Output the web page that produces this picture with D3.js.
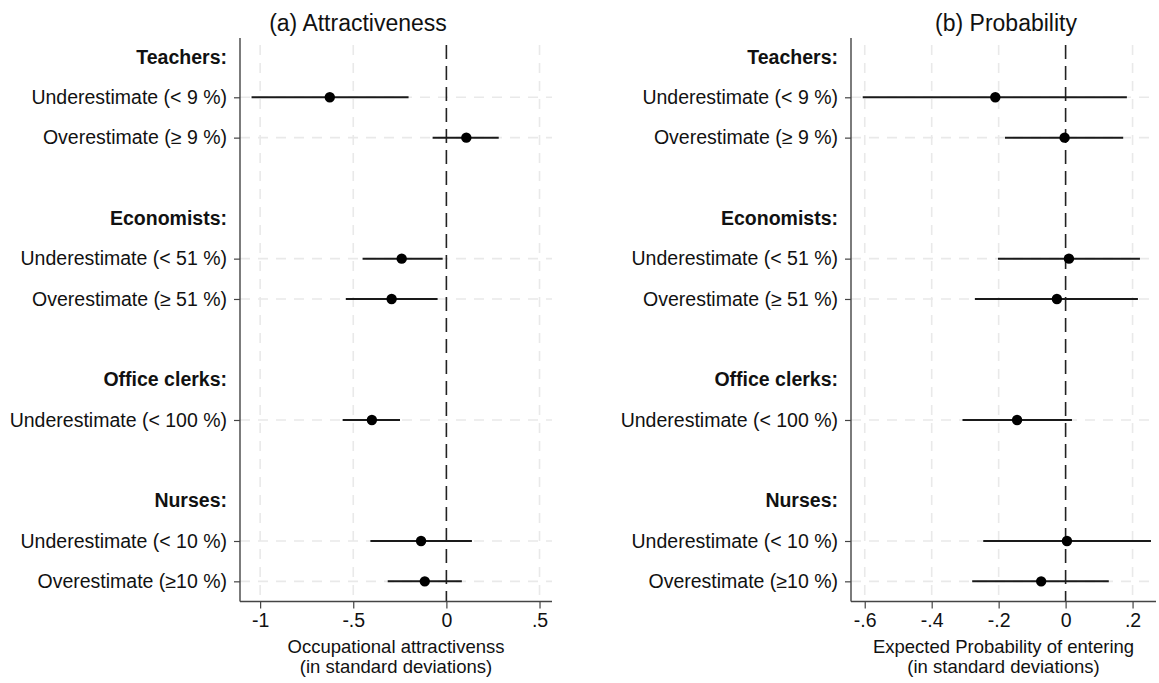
<!DOCTYPE html>
<html>
<head>
<meta charset="utf-8">
<script src="https://cdn.jsdelivr.net/npm/d3@7"></script>
<style>
  html, body { margin: 0; padding: 0; background: #fff; }
  svg { display: block; font-family: "Liberation Sans", Arial, Helvetica, sans-serif; }
</style>
</head>
<body>
<svg id="chart" width="1159" height="683"></svg>
<script>
// Occupation groups and the perception rows under each of them
const occupations = ["Teachers", "Economists", "Office clerks", "Nurses"];
const estimateLabels = [
  "Underestimate (< 9 %)", "Overestimate (\u2265 9 %)",
  "Underestimate (< 51 %)", "Overestimate (\u2265 51 %)",
  "Underestimate (< 100 %)",
  "Underestimate (< 10 %)", "Overestimate (\u226510 %)"
];
const estimateOccupation = ["Teachers", "Teachers", "Economists", "Economists",
  "Office clerks", "Nurses", "Nurses"];

// (a) Occupational attractiveness: point estimates and 95% CI bounds
const attractCoef = [-0.626, 0.107, -0.240, -0.294, -0.400, -0.136, -0.116];
const attractLo   = [-1.046, -0.074, -0.450, -0.540, -0.557, -0.408, -0.315];
const attractHi   = [-0.203, 0.281, -0.020, -0.047, -0.249, 0.137, 0.083];

// (b) Expected probability of entering: point estimates and 95% CI bounds
const probCoef = [-0.210, -0.003, 0.010, -0.026, -0.145, 0.004, -0.073];
const probLo   = [-0.606, -0.181, -0.202, -0.271, -0.308, -0.246, -0.279];
const probHi   = [0.183, 0.172, 0.222, 0.216, 0.019, 0.255, 0.129];

// Axis ticks
const attractTicks = [-1, -0.5, 0, 0.5];
const attractTickLabels = ["-1", "-.5", "0", ".5"];
const probTicks = [-0.6, -0.4, -0.2, 0, 0.2];
const probTickLabels = ["-.6", "-.4", "-.2", "0", ".2"];

// Row order: each occupation gets a header row, its estimate rows, then a spacer
const rows = [];
let slot = 0;
occupations.forEach((occ, gi) => {
  if (gi > 0) slot += 1;
  rows.push({ label: occ + ":", header: true, slot: slot++ });
  estimateLabels.forEach((lab, i) => {
    if (estimateOccupation[i] === occ) rows.push({ label: lab, header: false, slot: slot++, idx: i });
  });
});

const svg = d3.select("#chart");
const plotTop = 38, plotBottom = 601.5;
const y = d3.scaleLinear().domain([-0.47, 13.5]).range([plotTop, plotBottom]);

const panels = [
  { title: "(a) Attractiveness", titleX: 358,
    range: [240, 552], domain: [-1.108, 0.567],
    coef: attractCoef, lo: attractLo, hi: attractHi,
    ticks: attractTicks, tickLabels: attractTickLabels,
    xTitle: ["Occupational attractivenss", "(in standard deviations)"] },
  { title: "(b) Probability", titleX: 1006,
    range: [851, 1156], domain: [-0.641, 0.27],
    coef: probCoef, lo: probLo, hi: probHi,
    ticks: probTicks, tickLabels: probTickLabels,
    xTitle: ["Expected Probability of entering", "(in standard deviations)"] }
];

const gridColor = "#e9e9e9";
const ink = "#111";
const labelSize = 19.5;

panels.forEach(p => {
  const x = d3.scaleLinear().domain(p.domain).range(p.range);
  const g = svg.append("g");
  const dataRows = rows.filter(r => !r.header);

  // vertical grid at each tick
  g.selectAll(".vgrid").data(p.ticks.filter(t => t !== 0)).enter().append("line")
    .attr("x1", d => x(d)).attr("x2", d => x(d))
    .attr("y1", plotTop + 7).attr("y2", plotBottom)
    .attr("stroke", gridColor).attr("stroke-width", 1.6)
    .attr("stroke-dasharray", "10,8");

  // horizontal grid at each estimate row
  g.selectAll(".hgrid").data(dataRows).enter().append("line")
    .attr("x1", p.range[0]).attr("x2", p.range[1])
    .attr("y1", d => y(d.slot)).attr("y2", d => y(d.slot))
    .attr("stroke", gridColor).attr("stroke-width", 1.6)
    .attr("stroke-dasharray", "10,8");

  // reference line at zero
  g.append("line")
    .attr("x1", x(0)).attr("x2", x(0))
    .attr("y1", plotTop + 7).attr("y2", plotBottom)
    .attr("stroke", "#222").attr("stroke-width", 1.6)
    .attr("stroke-dasharray", "14,7");

  // y axis with row labels
  const yAxis = d3.axisLeft(y)
    .tickValues(dataRows.map(r => r.slot))
    .tickSize(6).tickFormat("");
  const ya = g.append("g").attr("transform", `translate(${p.range[0]},0)`).call(yAxis);
  ya.select(".domain").attr("d", `M0,${plotTop}V${plotBottom}`).attr("stroke", "#444").attr("stroke-width", 1.4);
  ya.selectAll(".tick line").attr("stroke", "#444").attr("stroke-width", 1.2);

  g.selectAll(".rowlab").data(rows).enter().append("text")
    .attr("x", p.range[0] - 13).attr("y", d => y(d.slot))
    .attr("dy", "0.35em").attr("text-anchor", "end")
    .attr("font-size", labelSize).attr("fill", ink)
    .attr("font-weight", d => d.header ? "bold" : "normal")
    .text(d => d.label);

  // x axis
  const xAxis = d3.axisBottom(x).tickValues(p.ticks).tickSize(7)
    .tickFormat((d, i) => p.tickLabels[i]);
  const xa = g.append("g").attr("transform", `translate(0,${plotBottom})`).call(xAxis);
  xa.select(".domain").attr("d", `M${p.range[0]},0H${p.range[1]}`).attr("stroke", "#444").attr("stroke-width", 1.4);
  xa.selectAll(".tick line").attr("stroke", "#444").attr("stroke-width", 1.2);
  xa.selectAll(".tick text").attr("font-size", labelSize).attr("fill", ink)
    .attr("font-family", "Liberation Sans, Arial, sans-serif")
    .attr("y", 12);

  const cx = (p.range[0] + p.range[1]) / 2;
  p.xTitle.forEach((t, i) => {
    g.append("text").attr("x", cx).attr("y", 653 + i * 20)
      .attr("text-anchor", "middle").attr("font-size", 18.5).attr("fill", ink).text(t);
  });

  // title
  g.append("text").attr("x", p.titleX).attr("y", 31)
    .attr("text-anchor", "middle").attr("font-size", 23).attr("fill", ink).text(p.title);

  // confidence intervals and point estimates
  g.selectAll(".ci").data(dataRows).enter().append("line")
    .attr("x1", d => x(p.lo[d.idx])).attr("x2", d => x(p.hi[d.idx]))
    .attr("y1", d => y(d.slot)).attr("y2", d => y(d.slot))
    .attr("stroke", "#1a1a1a").attr("stroke-width", 2);
  g.selectAll(".pt").data(dataRows).enter().append("circle")
    .attr("cx", d => x(p.coef[d.idx])).attr("cy", d => y(d.slot))
    .attr("r", 5.2).attr("fill", "#000");
});
</script>
</body>
</html>
